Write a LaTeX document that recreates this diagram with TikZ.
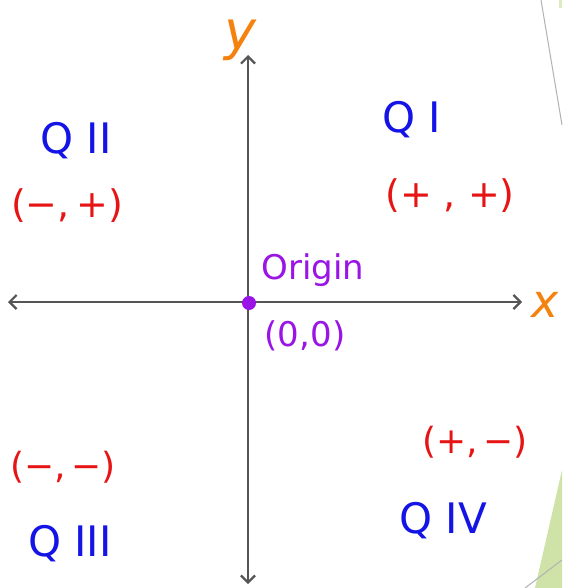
\documentclass[tikz,border=0pt]{standalone}
\usepackage{fontspec}
\setmainfont{DejaVu Sans}
\usetikzlibrary{arrows.meta}
\definecolor{qblue}{HTML}{1414E6}
\definecolor{qred}{HTML}{E61414}
\definecolor{qorange}{HTML}{F5820F}
\definecolor{qpurple}{HTML}{9A14E6}
\definecolor{axisgray}{HTML}{555555}
\definecolor{slidegreen}{HTML}{CFE3A8}
\tikzset{
  axis/.style={draw=axisgray, line width=2.2pt, arrows={Straight Barb[length=7pt,width=14pt]-Straight Barb[length=7pt,width=14pt]}},
  quad/.style={text=qblue, font=\fontsize{42}{44}\selectfont, inner sep=0pt},
  sign/.style={text=qred, inner sep=0pt},
  axlabel/.style={text=qorange, font=\itshape\fontsize{46}{48}\selectfont, inner sep=0pt},
  orig/.style={text=qpurple, font=\fontsize{34}{36}\selectfont, inner sep=0pt}
}
\begin{document}
\begin{tikzpicture}[x=1pt,y=-1pt]
\useasboundingbox (0,0) rectangle (562,588);
\fill[white] (0,0) rectangle (562,588);
% slide decoration
\fill[slidegreen] (535,588) -- (562,470) -- (562,588) -- cycle;
\fill[slidegreen!70] (559,0) rectangle (562,8);
\draw[gray!60, line width=1pt] (541,0) -- (562,125);
\draw[gray!60, line width=1pt] (525,588) -- (562,560);
% axes
\coordinate (xl) at (8,302);
\coordinate (xr) at (522,302);
\coordinate (yt) at (248,55);
\coordinate (yb) at (248,584);
\draw[axis] (xl) -- (xr);
\draw[axis] (yb) -- (yt);
\node[circle, fill=qpurple, minimum size=14pt, inner sep=0pt] (o) at (249,303) {};
% labels
\node[axlabel, font=\itshape\fontsize{54}{56}\selectfont] (ylab) at (240,40) {y};
\node[axlabel] (xlab) at (545,305) {x};
\node[quad] (q1) at (412,120) {Q I};
\node[sign, font=\fontsize{38}{40}\selectfont] (s1) at (450,196) {(+ , +)};
\node[quad] (q2) at (76,141) {Q II};
\node[sign, font=\fontsize{38}{40}\selectfont] (s2) at (67,206) {(−,\,+)};
\node[sign, font=\fontsize{36}{38}\selectfont] (s3) at (63,467) {(−,\,−)};
\node[quad] (q3) at (70,544) {Q III};
\node[sign, font=\fontsize{36}{38}\selectfont] (s4) at (475,442) {(+,\,−)};
\node[quad] (q4) at (443,521) {Q IV};
\node[orig] (olab) at (313,270) {Origin};
\node[orig] (ocoord) at (305,336) {(0,0)};
\end{tikzpicture}
\end{document}
